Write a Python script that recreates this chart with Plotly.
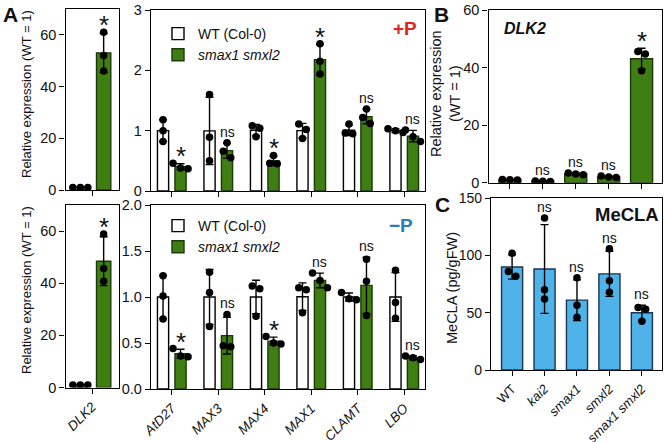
import numpy as np
import plotly.graph_objects as go

W, H = 666, 442

# ---------------- data ----------------
a_left_cats = ["DLK2"]
a_right_cats = ["AtD27", "MAX3", "MAX4", "MAX1", "CLAMT", "LBO"]

# +P
ap_dlk2_wt = [[1.0, 1.0, 1.0]]
ap_dlk2_mut = [[61.0, 52.0, 46.0]]
ap_wt = [[1.18, 1.00, 0.82], [1.60, 0.89, 0.50], [1.08, 1.04, 0.90],
         [1.11, 1.02, 0.87], [1.11, 0.96, 0.95], [1.03, 1.00, 0.97]]
ap_mut = [[0.46, 0.38, 0.37], [0.80, 0.66, 0.55], [0.59, 0.46, 0.45],
          [2.44, 2.15, 1.94], [1.36, 1.22, 1.12], [1.01, 0.90, 0.82]]
ap_sig = ["*", "ns", "*", "*", "ns", "ns"]

# -P
am_dlk2_wt = [[1.0, 1.0, 1.0]]
am_dlk2_mut = [[58.9, 45.6, 40.8]]
am_wt = [[1.23, 1.01, 0.76], [1.27, 1.05, 0.68], [1.12, 1.09, 0.79],
         [1.10, 1.08, 0.83], [1.05, 0.98, 0.97], [1.29, 0.94, 0.77]]
am_mut = [[0.44, 0.36, 0.35], [0.81, 0.47, 0.46], [0.57, 0.50, 0.49],
          [1.26, 1.18, 1.10], [1.41, 1.17, 0.80], [0.36, 0.34, 0.32]]
am_sig = ["*", "ns", "*", "ns", "ns", "ns"]

# B: DLK2 in genotypes
geno_cats = ["WT", "kai2", "smax1", "smxl2", "smax1 smxl2"]
geno_ticktext = ["WT", "<i>kai2</i>", "<i>smax1</i>", "<i>smxl2</i>", "<i>smax1 smxl2</i>"]
b_vals = [[1.1, 1.0, 0.9], [0.6, 0.5, 0.4], [3.4, 3.0, 2.8], [2.3, 2.0, 1.8], [45.6, 44.7, 38.9]]
b_sig = ["", "ns", "ns", "ns", "*"]

# C: MeCLA
c_vals = [[102.0, 86.0, 82.0], [132.8, 70.0, 62.0], [80.6, 56.5, 46.0],
          [106.0, 78.0, 68.0], [54.5, 53.0, 42.6]]
c_sig = ["", "ns", "ns", "ns", "ns"]

# ---------------- style ----------------
GREEN = "#3f7e13"
BLUE = "#4fb3ea"
FONT = "Arial, Liberation Sans, Helvetica, sans-serif"

# panel domains in pixels: (x0, x1, y_top, y_bottom)
P = {
    "a1": (65.5, 118.5, 9, 190),
    "a2": (151, 425, 10, 191),
    "a3": (65.5, 118.5, 205, 387.5),
    "a4": (151, 425, 205, 389),
    "b": (488.5, 662, 10, 182.7),
    "c": (491, 662, 198.3, 370),
}
AX = {"a1": 1, "a2": 2, "a3": 3, "a4": 4, "b": 5, "c": 6}
XR = {"a1": [-0.5, 0.5], "a2": [-0.447, 5.447], "a3": [-0.5, 0.5], "a4": [-0.447, 5.447],
      "b": [-0.65, 4.62], "c": [-0.65, 4.62]}
YR = {"a1": [0, 70], "a2": [0, 3], "a3": [0, 70], "a4": [0, 2], "b": [0, 60], "c": [0, 150]}


def ppx(k):
    x0, x1, _, _ = P[k]
    return (x1 - x0) / (XR[k][1] - XR[k][0])


def ppy(k):
    _, _, t, b = P[k]
    return (b - t) / (YR[k][1] - YR[k][0])


def swarm(vals, center, k, d=7.5):
    s = sorted(vals, reverse=True)
    clusters = []
    for v in s:
        if clusters and abs(clusters[-1][-1] - v) * ppy(k) < d:
            clusters[-1].append(v)
        else:
            clusters.append([v])
    xs, ys = [], []
    for c in clusters:
        n = len(c)
        for j, v in enumerate(c):
            xs.append(center + (j - (n - 1) / 2) * d / ppx(k))
            ys.append(v)
    return xs, ys


fig = go.Figure()


def add_bars(k, groups, off, width, fill, line, name=None, legend=None, sig=None,
             sig_sizes=(26, 14)):
    n = AX[k]
    xa = "x" if n == 1 else f"x{n}"
    ya = "y" if n == 1 else f"y{n}"
    means = [float(np.mean(g)) for g in groups]
    sds = [float(np.std(g, ddof=1)) for g in groups]
    xs = [i + off for i in range(len(groups))]
    fig.add_trace(go.Bar(
        x=xs, y=means, width=width, xaxis=xa, yaxis=ya,
        marker=dict(color=fill, line=dict(color=line, width=1.4)),
        error_y=dict(type="data", array=sds, arrayminus=sds, symmetric=False,
                     color="black", thickness=1.4, width=4),
        name=name or "", showlegend=name is not None,
        legend=legend if legend else "legend",
    ))
    px, py = [], []
    for i, g in enumerate(groups):
        sx, sy = swarm(g, i + off, k)
        px += sx
        py += sy
    fig.add_trace(go.Scatter(
        x=px, y=py, mode="markers", xaxis=xa, yaxis=ya, showlegend=False,
        marker=dict(color="black", size=7.5),
    ))
    if sig:
        for i, s in enumerate(sig):
            if not s:
                continue
            top = max(means[i] + sds[i], max(groups[i]))
            star = s == "*"
            fig.add_annotation(
                x=i + off, y=top, xref=xa, yref=ya, text=s, showarrow=False,
                yanchor="bottom", yshift=-10 if star else 1,
                font=dict(size=sig_sizes[0] if star else sig_sizes[1], color="#111", family=FONT),
            )


# Panel A +P
add_bars("a1", ap_dlk2_wt, -0.22, 0.27, "white", "black")
add_bars("a1", ap_dlk2_mut, 0.22, 0.27, GREEN, "#1c3a08", sig=["*"])
add_bars("a2", ap_wt, -0.188, 0.24, "white", "black", name="WT (Col-0)", legend="legend")
add_bars("a2", ap_mut, 0.188, 0.24, GREEN, "#1c3a08", name="<i>smax1 smxl2</i>", legend="legend", sig=ap_sig)
# Panel A -P
add_bars("a3", am_dlk2_wt, -0.22, 0.27, "white", "black")
add_bars("a3", am_dlk2_mut, 0.22, 0.27, GREEN, "#1c3a08", sig=["*"])
add_bars("a4", am_wt, -0.188, 0.24, "white", "black", name="WT (Col-0)", legend="legend2")
add_bars("a4", am_mut, 0.188, 0.24, GREEN, "#1c3a08", name="<i>smax1 smxl2</i>", legend="legend2", sig=am_sig)
# Panel B
add_bars("b", b_vals, 0.0, 0.67, GREEN, "#1c3a08", sig=b_sig)
# Panel C
add_bars("c", c_vals, 0.0, 0.65, BLUE, "#1b3550", sig=c_sig)


def dom_x(k):
    x0, x1, _, _ = P[k]
    return [x0 / W, x1 / W]


def dom_y(k):
    _, _, t, b = P[k]
    return [1 - b / H, 1 - t / H]


axis_common = dict(showline=True, linecolor="black", linewidth=1.3, mirror=True,
                   ticks="outside", ticklen=5, tickwidth=1.3, tickcolor="black",
                   showgrid=False, zeroline=False, automargin=False,
                   tickfont=dict(size=14.5, color="#111", family=FONT))

xticks = {
    "a1": ([0], [""]),
    "a2": (list(range(6)), [""] * 6),
    "a3": ([0], ["<i>DLK2</i>"]),
    "a4": (list(range(6)), [f"<i>{c}</i>" for c in a_right_cats]),
    "b": (list(range(5)), [""] * 5),
    "c": (list(range(5)), geno_ticktext),
}
yticks = {
    "a1": dict(tickvals=[0, 20, 40, 60]),
    "a2": dict(tickvals=[0, 1, 2, 3]),
    "a3": dict(tickvals=[0, 20, 40, 60]),
    "a4": dict(tickvals=[0, 0.5, 1.0, 1.5, 2.0], tickformat=".1f"),
    "b": dict(tickvals=[0, 20, 40, 60]),
    "c": dict(tickvals=[0, 50, 100, 150]),
}

layout = dict(width=W, height=H, margin=dict(l=0, r=0, t=0, b=0),
              paper_bgcolor="white", plot_bgcolor="white", barmode="overlay",
              font=dict(family=FONT, color="#111"))
for k, n in AX.items():
    xs = "xaxis" if n == 1 else f"xaxis{n}"
    ys = "yaxis" if n == 1 else f"yaxis{n}"
    ya_ref = "y" if n == 1 else f"y{n}"
    xa_ref = "x" if n == 1 else f"x{n}"
    tv, tt = xticks[k]
    layout[xs] = dict(axis_common, domain=dom_x(k), range=XR[k], anchor=ya_ref,
                      tickvals=tv, ticktext=tt, tickangle=-45, ticklen=5,
                      tickfont=dict(size=13 if k == "c" else 13.5, color="#111", family=FONT))
    layout[ys] = dict(axis_common, domain=dom_y(k), range=YR[k], anchor=xa_ref, **yticks[k])
    if k == "c":
        layout[ys]["tickfont"] = dict(size=14, color="#111", family=FONT)

legend_common = dict(xanchor="left", yanchor="top", bgcolor="rgba(0,0,0,0)",
                     font=dict(size=14, family=FONT, color="#111"),
                     itemwidth=30, tracegroupgap=0)
layout["legend"] = dict(legend_common, x=158 / W, y=1 - 18 / H)
layout["legend2"] = dict(legend_common, x=158 / W, y=1 - 210 / H)
fig.update_layout(**layout)

# y-axis titles (rotated text)
ytitles = [
    ("Relative expression (WT = 1)", 26, 94, 13),
    ("Relative expression (WT = 1)", 26, 290, 13),
    ("Relative expression<br>(WT = 1)", 445, 94, 14.5),
    ("MeCLA (pg/gFW)", 452, 288, 14.5),
]
for txt, x, y, fs in ytitles:
    fig.add_annotation(x=x / W, y=1 - y / H, xref="paper", yref="paper", text=txt,
                       showarrow=False, textangle=-90, xanchor="center", yanchor="middle",
                       font=dict(size=fs, color="#111", family=FONT))

# panel letters and labels
texts = [
    ("A", 10, 14, 21, "#111", True, False),
    ("B", 441, 14, 21, "#111", True, False),
    ("C", 442, 204, 21, "#111", True, False),
    ("+P", 405, 29, 19, "#e3241b", True, False),
    ("\u2212P", 401, 225, 19, "#2a7cbf", True, False),
    ("DLK2", 525, 29, 16, "#111", True, True),
    ("MeCLA", 627, 214, 18.5, "#111", True, False),
]
for txt, x, y, fs, col, bold, ital in texts:
    s = txt
    if bold:
        s = f"<b>{s}</b>"
    if ital:
        s = f"<i>{s}</i>"
    fig.add_annotation(x=x / W, y=1 - y / H, xref="paper", yref="paper", text=s,
                       showarrow=False, xanchor="center", yanchor="middle",
                       font=dict(size=fs, color=col, family=FONT))

fig.write_html("out.html", config={"displayModeBar": False},
               post_script="document.body.style.margin='0';")
